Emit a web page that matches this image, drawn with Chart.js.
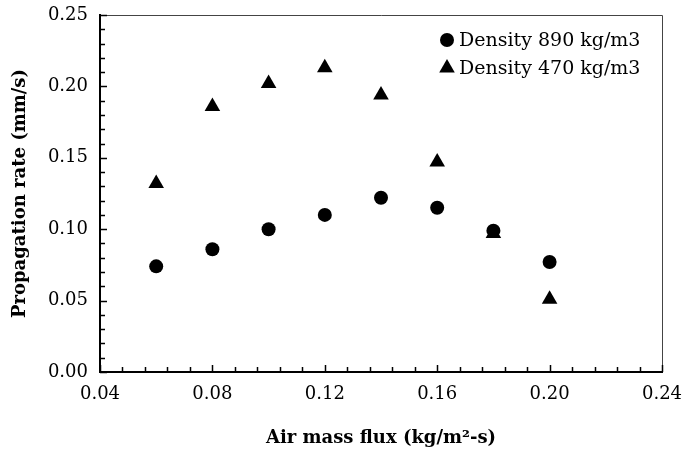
<!DOCTYPE html>
<html>
<head>
<meta charset="utf-8">
<script src="https://cdn.jsdelivr.net/npm/chart.js"></script>
<style>
  html, body { margin: 0; padding: 0; background: #fff; }
  #wrap { width: 687px; height: 449px; }
</style>
</head>
<body>
<div id="wrap"><canvas id="rateChart"></canvas></div>
<script>
var airFlux = [0.06, 0.08, 0.10, 0.12, 0.14, 0.16, 0.18, 0.20];
var rate890 = [0.074, 0.086, 0.100, 0.110, 0.122, 0.115, 0.099, 0.077];
var rate470 = [0.132, 0.186, 0.202, 0.213, 0.194, 0.147, 0.097, 0.051];
var seriesNames = ['Density 890 kg/m3', 'Density 470 kg/m3'];

var FONT = '"DejaVu Serif", serif';

function toPoints(xs, ys) {
    return xs.map(function(x, i) { return { x: x, y: ys[i] }; });
}

// inward ticks, frame on top/right, legend inside the plot
var framePlugin = {
    id: 'frame',
    afterDraw: function(chart) {
        var ctx = chart.ctx;
        var a = chart.chartArea;
        var xs = chart.scales.x, ys = chart.scales.y;
        ctx.save();
        ctx.strokeStyle = '#444';
        ctx.lineWidth = 1;
        ctx.beginPath();
        ctx.moveTo(a.left, a.top + 0.5);
        ctx.lineTo(a.right + 0.5, a.top + 0.5);
        ctx.lineTo(a.right + 0.5, a.bottom);
        ctx.stroke();

        ctx.strokeStyle = '#000';
        ctx.lineWidth = 1.5;
        ctx.beginPath();
        var i, v, p, len;
        for (i = 0; i <= 25; i++) {
            v = 0.04 + i * 0.008;
            p = Math.round(xs.getPixelForValue(v)) + 0.5;
            len = (i % 5 === 0) ? 7 : 5;
            ctx.moveTo(p, a.bottom);
            ctx.lineTo(p, a.bottom - len);
        }
        for (i = 0; i <= 25; i++) {
            v = i * 0.01;
            p = Math.round(ys.getPixelForValue(v)) + 0.5;
            len = (i % 5 === 0) ? 7 : 5;
            ctx.moveTo(a.left, p);
            ctx.lineTo(a.left + len, p);
        }
        ctx.stroke();

        // legend
        ctx.font = '19px ' + FONT;
        ctx.fillStyle = '#000';
        ctx.textBaseline = 'middle';
        ctx.textAlign = 'left';
        chart.data.datasets.forEach(function(ds, k) {
            var cy = 40 + k * 28;
            Chart.helpers.drawPoint(ctx, {
                pointStyle: ds.pointStyle,
                radius: ds.pointRadius,
                borderWidth: 0
            }, 447, cy);
            ctx.fillText(ds.label, 459, cy + 1);
        });
        ctx.restore();
    }
};

var ctx = document.getElementById('rateChart').getContext('2d');
var rateChart = new Chart(ctx, {
    type: 'scatter',
    data: {
        datasets: [{
            label: seriesNames[0],
            data: toPoints(airFlux, rate890),
            pointStyle: 'circle',
            pointRadius: 7,
            backgroundColor: '#000',
            borderColor: '#000',
            borderWidth: 0
        }, {
            label: seriesNames[1],
            data: toPoints(airFlux, rate470),
            pointStyle: 'triangle',
            pointRadius: 9,
            backgroundColor: '#000',
            borderColor: '#000',
            borderWidth: 0
        }]
    },
    options: {
        responsive: true,
        maintainAspectRatio: false,
        animation: false,
        layout: { padding: { left: 0, right: 25, top: 15, bottom: 0 } },
        plugins: {
            legend: { display: false },
            tooltip: { enabled: false }
        },
        scales: {
            x: {
                type: 'linear',
                min: 0.04,
                max: 0.24,
                afterFit: function(s) {
                    s.height = 77;
                    s.paddingLeft = 0;
                    s.paddingRight = 0;
                },
                afterBuildTicks: function(s) {
                    s.ticks = [0.04, 0.08, 0.12, 0.16, 0.20, 0.24].map(function(v) { return { value: v }; });
                },
                grid: { display: false, drawTicks: false },
                border: { display: true, color: '#000', width: 2 },
                ticks: {
                    padding: 12,
                    color: '#000',
                    font: { family: FONT, size: 18 },
                    callback: function(v) { return v.toFixed(2); }
                },
                title: {
                    display: true,
                    text: 'Air mass flux (kg/m²-s)',
                    color: '#000',
                    font: { family: FONT, size: 18, weight: 'bold' },
                    padding: { top: 0, bottom: 0 }
                }
            },
            y: {
                type: 'linear',
                min: 0,
                max: 0.25,
                afterFit: function(s) {
                    s.width = 100;
                    s.paddingTop = 0;
                    s.paddingBottom = 0;
                },
                afterBuildTicks: function(s) {
                    s.ticks = [0, 0.05, 0.10, 0.15, 0.20, 0.25].map(function(v) { return { value: v }; });
                },
                grid: { display: false, drawTicks: false },
                border: { display: true, color: '#000', width: 2 },
                ticks: {
                    padding: 12,
                    color: '#000',
                    font: { family: FONT, size: 18 },
                    callback: function(v) { return v.toFixed(2); }
                },
                title: {
                    display: true,
                    text: 'Propagation rate (mm/s)',
                    color: '#000',
                    font: { family: FONT, size: 18, weight: 'bold' },
                    padding: { top: 10, bottom: 0 }
                }
            }
        }
    },
    plugins: [framePlugin]
});
</script>
</body>
</html>
